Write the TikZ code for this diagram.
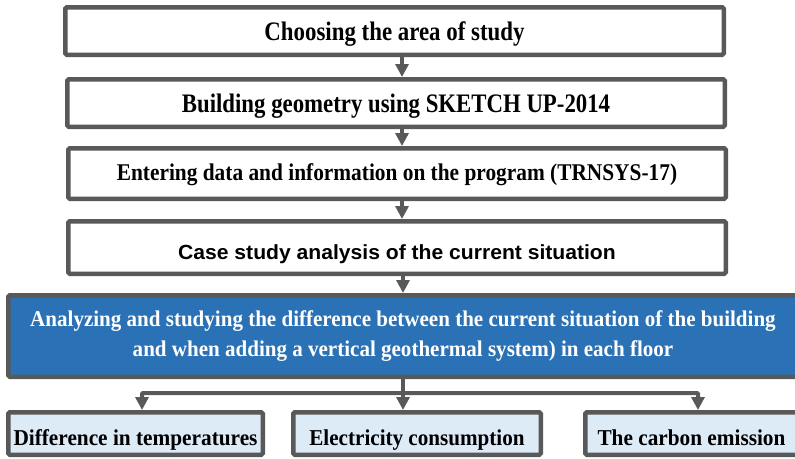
\documentclass[tikz,border=0pt]{standalone}
\usepackage{fontspec}
\usetikzlibrary{arrows.meta,calc}
\newfontfamily\serifb{Liberation Serif}
\newfontfamily\sansb{Liberation Sans}
\newcommand{\hs}[2]{\scalebox{#1}[1]{#2}}
\definecolor{bordergray}{HTML}{595959}
\definecolor{stepblue}{HTML}{2A72B5}
\definecolor{lightblue}{HTML}{DDEBF7}
\tikzset{
  flowbox/.style={draw=bordergray, line width=4.5pt, rounded corners=1.5pt, fill=white,
    inner sep=0pt, text depth=0pt, font=\serifb\bfseries\fontsize{26.7}{30}\selectfont},
  mainbox/.style={draw=bordergray, line width=4.5pt, rounded corners=1.5pt, fill=stepblue, text=white, align=center,
    inner sep=0pt, font=\serifb\bfseries\fontsize{22.5}{30.6}\selectfont},
  resultbox/.style={flowbox, fill=lightblue, font=\serifb\bfseries\fontsize{22.7}{27}\selectfont},
  conn/.style={draw=bordergray, line width=4pt},
  arr/.style={conn, -{Triangle[width=13pt,length=13pt]}}
}
\begin{document}
\begin{tikzpicture}[x=1pt,y=-1pt]
\useasboundingbox (0,0) rectangle (795,458);
\clip (0,0) rectangle (795,458);
\node[flowbox, minimum width=658.5pt, minimum height=47.5pt, text height=18pt] (b1) at (394.5,31) {\hs{0.857}{Choosing the area of study}};
\node[flowbox, minimum width=657.5pt, minimum height=47.5pt, text height=19.4pt] (b2) at (396,103) {\hs{0.854}{Building geometry using SKETCH UP-2014}};
\node[flowbox, minimum width=657.5pt, minimum height=50.5pt, text height=14pt, font=\serifb\bfseries\fontsize{24}{28}\selectfont] (b3) at (397,173.5) {\hs{0.89}{Entering data and information on the program (TRNSYS-17)}};
\node[flowbox, minimum width=657.5pt, minimum height=52.5pt, text height=23pt, font=\sansb\bfseries\fontsize{20.5}{24}\selectfont] (b4) at (397,247.5) {\hs{1.03}{Case study analysis of the current situation}};
\node[mainbox, minimum width=789.5pt, minimum height=81.5pt] (b5) at (403,336) {\hs{0.935}{Analyzing and studying the difference between the current situation of the building}\\\hs{0.935}{and when adding a vertical geothermal system) in each floor}};
\node[resultbox, minimum width=254.5pt, minimum height=42.5pt, text height=23pt] (r1) at (135.5,433.5) {\hs{0.938}{Difference in temperatures}};
\node[resultbox, minimum width=247.5pt, minimum height=42.5pt, text height=23pt] (r2) at (417,433.5) {\hs{0.93}{Electricity consumption}};
\node[resultbox, minimum width=212.5pt, minimum height=42.5pt, text height=23pt] (r3) at (691.5,433.5) {\hs{0.937}{The carbon emission}};
\coordinate (xa) at (402,0);
\coordinate (xb) at (403,0);
\coordinate (xl) at (142,0);
\coordinate (xr) at (698,0);
\coordinate (t12) at (b2.north -| xa);
\coordinate (t23) at (b3.north -| xa);
\coordinate (t34) at (b4.north -| xa);
\coordinate (t45) at (b5.north -| xb);
\coordinate (j) at (403,393);
\coordinate (ta) at (r1.north -| xl);
\coordinate (tb) at (r2.north -| xb);
\coordinate (tc) at (r3.north -| xr);
\draw[arr] (b1.south -| t12) -- (t12);
\draw[arr] (b2.south -| t23) -- (t23);
\draw[arr] (b3.south -| t34) -- (t34);
\draw[arr] (b4.south -| t45) -- (t45);
\draw[arr] (b5.south) -- (tb);
\draw[arr, rounded corners=1pt] (j) -| (ta);
\draw[arr, rounded corners=1pt] (j) -| (tc);
\end{tikzpicture}
\end{document}
